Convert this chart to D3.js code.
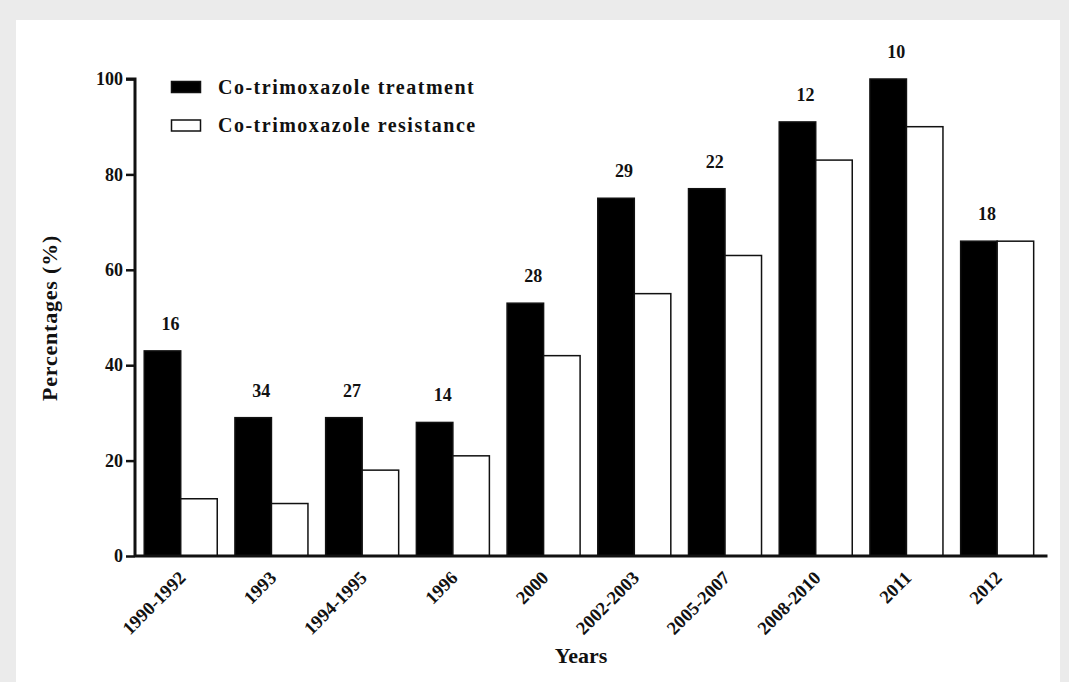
<!DOCTYPE html>
<html>
<head>
<meta charset="utf-8">
<script src="https://cdn.jsdelivr.net/npm/d3@7"></script>
<style>
  html, body { margin: 0; padding: 0; background: #ebebeb; }
  svg { display: block; }
  text { font-family: "Liberation Serif", "Times New Roman", serif; font-weight: bold; fill: #111; }
</style>
</head>
<body>
<svg id="chart" width="1069" height="682"></svg>
<script>
const categories = ["1990-1992", "1993", "1994-1995", "1996", "2000", "2002-2003", "2005-2007", "2008-2010", "2011", "2012"];
const treatment  = [43, 29, 29, 28, 53, 75, 77, 91, 100, 66];
const resistance = [12, 11, 18, 21, 42, 55, 63, 83, 90, 66];
const counts     = [16, 34, 27, 14, 28, 29, 22, 12, 10, 18];
const yTicks     = [0, 20, 40, 60, 80, 100];
const seriesNames = ["Co-trimoxazole treatment", "Co-trimoxazole resistance"];
const seriesFill  = ["#000000", "#ffffff"];

const svg = d3.select("#chart");

// white panel
svg.append("rect").attr("x", 16).attr("y", 20).attr("width", 1044).attr("height", 662).attr("fill", "#ffffff");

const x = d3.scaleBand().domain(categories).range([135, 1047.5])
  .paddingInner(0.195).paddingOuter(0.127).align(0.4);
const xs = d3.scaleBand().domain([0, 1]).range([0, x.bandwidth()]);
const y = d3.scaleLinear().domain([0, 100]).range([556, 79]);

const data = categories.map((c, i) => ({ c, vals: [treatment[i], resistance[i]], n: counts[i] }));

// bars
const g = svg.append("g");
const groups = g.selectAll("g.grp").data(data).join("g").attr("class", "grp")
  .attr("transform", d => `translate(${x(d.c)},0)`);
groups.selectAll("rect").data(d => d.vals.map((v, k) => ({ v, k }))).join("rect")
  .attr("x", d => xs(d.k))
  .attr("width", xs.bandwidth())
  .attr("y", d => y(d.v))
  .attr("height", d => y(0) - y(d.v))
  .attr("fill", d => seriesFill[d.k])
  .attr("stroke", "#111")
  .attr("stroke-width", 1.5);

// count labels
groups.append("text")
  .attr("x", x.bandwidth() * 0.36)
  .attr("y", d => y(d.vals[0]) - 21)
  .attr("text-anchor", "middle")
  .style("font-size", "18px")
  .text(d => d.n);

// y axis
const yAxis = d3.axisLeft(y).tickValues(yTicks).tickSize(9).tickPadding(3);
const ya = svg.append("g").attr("transform", "translate(135,0)").call(yAxis);
ya.select(".domain").attr("stroke", "#111").attr("stroke-width", 3).attr("d", `M-9,${y(100)}H0V${y(0)}`);
ya.selectAll(".tick line").attr("stroke", "#111").attr("stroke-width", 2.5);
ya.selectAll(".tick text").style("font-size", "18px").style("font-family", "Liberation Serif").style("font-weight", "bold").attr("fill", "#111");

// x axis
const xAxis = d3.axisBottom(x).tickSize(0).tickPadding(0);
const xa = svg.append("g").attr("transform", `translate(0,${y(0)})`).call(xAxis);
xa.select(".domain").attr("stroke", "#111").attr("stroke-width", 3).attr("d", `M135,0H1047.5`);
xa.selectAll(".tick text")
  .attr("text-anchor", "end")
  .attr("transform", "translate(6,23) rotate(-45)")
  .attr("y", 0).attr("dy", 0)
  .style("font-size", "18.5px").style("font-family", "Liberation Serif").style("font-weight", "bold").attr("fill", "#111");

// axis titles
svg.append("text").attr("x", 581).attr("y", 663).attr("text-anchor", "middle")
  .style("font-size", "22px").text("Years");
svg.append("text").attr("transform", "translate(57,318) rotate(-90)").attr("text-anchor", "middle")
  .style("font-size", "22px").style("letter-spacing", "0.8px").text("Percentages (%)");

// legend
const leg = svg.append("g");
const legY = [87, 125.5];
seriesNames.forEach((name, k) => {
  leg.append("rect").attr("x", 171.5).attr("y", legY[k] - 5.5).attr("width", 29).attr("height", 11)
    .attr("fill", seriesFill[k]).attr("stroke", "#111").attr("stroke-width", 1.5);
  leg.append("text").attr("x", 218).attr("y", legY[k] + 6.5)
    .style("font-size", "20px").style("letter-spacing", "1.5px").text(name);
});
</script>
</body>
</html>
